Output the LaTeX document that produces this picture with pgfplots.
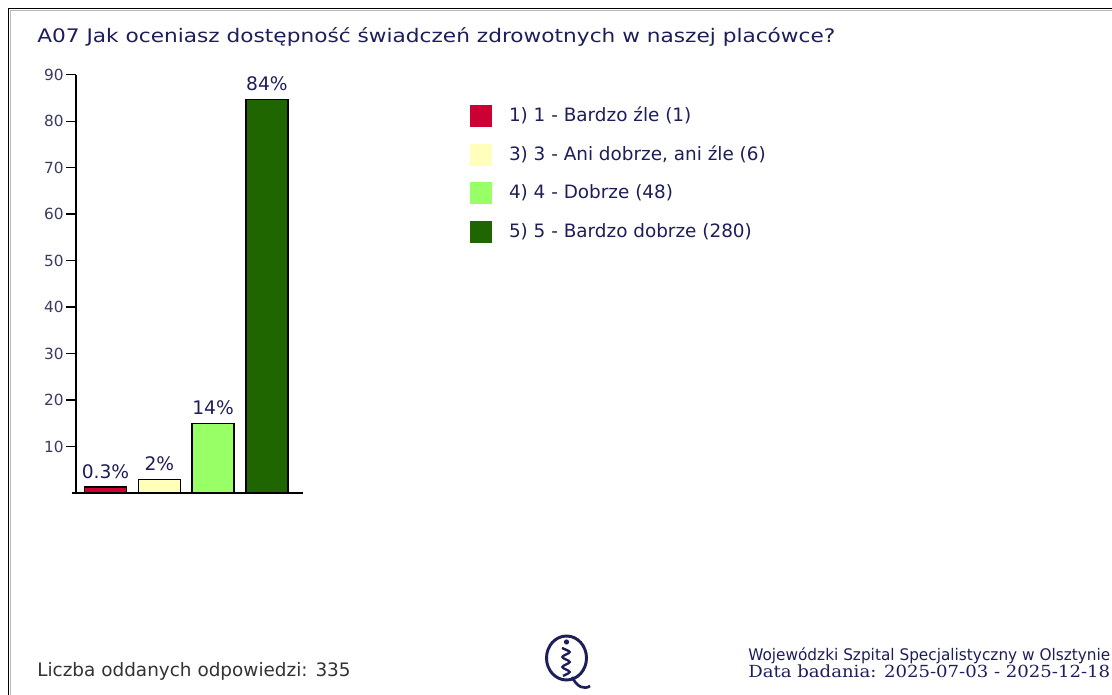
\documentclass[border=0pt]{standalone}
\usepackage{fontspec}
\setmainfont{DejaVu Sans}
\newfontfamily\seriffont{DejaVu Serif}
\usepackage{graphicx}
\usepackage{pgfplots}
\pgfplotsset{compat=1.18}
\definecolor{navy}{HTML}{1E1E5A}
\definecolor{ticknavy}{HTML}{3A3A62}
\definecolor{dgray}{HTML}{333333}
\definecolor{cRed}{HTML}{CC0033}
\definecolor{cYel}{HTML}{FFFFBB}
\definecolor{cLgr}{HTML}{99FF66}
\definecolor{cDgr}{HTML}{1F6600}
\pgfplotsset{
  mybar/.style={ybar, bar shift=0pt, draw=black, line width=1.1pt,
    legend image code/.code={\fill[##1, draw=none] (0pt,-8.25pt) rectangle (16.5pt,8.25pt);}},
}
\begin{document}
\begin{tikzpicture}[x=0.75pt,y=0.75pt]
\useasboundingbox (0,0) rectangle (1112,695);
\fill[white] (0,0) rectangle (1112,695);
\draw[line width=1.3pt] (8.5,0) -- (8.5,686.5) -- (1112,686.5);
\draw[gray!55, line width=0.7pt] (10.5,0) -- (10.5,684.5) -- (1112,684.5);

\node[anchor=base west, inner sep=0pt, text=navy] at (37,652)
  {\resizebox{598.5pt}{\height}{\fontsize{14pt}{17pt}\selectfont A07 Jak oceniasz dostępność świadczeń zdrowotnych w naszej placówce?}};

\begin{axis}[
  at={(56.775pt,151.5pt)}, anchor=south west,
  scale only axis, width=170.25pt, height=313.7pt,
  xmin=-0.554, xmax=3.665, ymin=0, ymax=90,
  axis x line*=bottom, axis y line*=left,
  axis line style={-, line width=1.4pt, black},
  xtick=\empty, ytick={10,20,...,90},
  tick align=outside, major tick length=7.3pt,
  every tick/.style={black, line width=1pt},
  yticklabel style={font=\fontsize{11.5pt}{13pt}\selectfont, text=ticknavy, inner sep=1.5pt},
  /pgf/number format/assume math mode=true,
  ybar, clip=false,
  bar width=31.5pt,
  point meta=explicit symbolic,
  nodes near coords,
  every node near coord/.append style={anchor=base, yshift=6.5pt, inner sep=0pt,
     font=\fontsize{14pt}{17pt}\selectfont, text=navy},
  legend cell align=left,
  legend style={at={(axis description cs:1.737,0.9276)}, anchor=north west,
     draw=none, fill=none, inner sep=0pt, outer sep=0pt,
     font=\fontsize{13.8pt}{16pt}\selectfont,
     row sep=12.4pt, column sep=12.75pt,
     nodes={inner sep=0pt, text height=12.5pt, text depth=4pt, text=navy}},
]
\addplot[mybar, fill=cRed] coordinates {(0,1.3) [0.3\%]};
\addlegendentry{1) 1 - Bardzo źle (1)}
\addplot[mybar, fill=cYel] coordinates {(1,2.9) [2\%]};
\addlegendentry{3) 3 - Ani dobrze, ani źle (6)}
\addplot[mybar, fill=cLgr] coordinates {(2,15.0) [14\%]};
\addlegendentry{4) 4 - Dobrze (48)}
\addplot[mybar, fill=cDgr] coordinates {(3,84.7) [84\%]};
\addlegendentry{5) 5 - Bardzo dobrze (280)}
\end{axis}
\draw[line width=1.4pt] (71.7,202) -- (76.5,202);

\node[anchor=base west, inner sep=0pt, text=dgray] at (37,18)
  {\resizebox{235pt}{\height}{\fontsize{13.9pt}{16pt}\selectfont Liczba oddanych odpowiedzi: 335}};

\node[anchor=base west, inner sep=0pt, text=navy] at (748,34)
  {\resizebox{271.5pt}{\height}{\fontsize{12pt}{14pt}\selectfont Wojewódzki Szpital Specjalistyczny w Olsztynie}};
\node[anchor=base west, inner sep=0pt, text=navy] at (748,17)
  {\resizebox{271.5pt}{\height}{\fontsize{12.5pt}{14pt}\seriffont Data badania: 2025-07-03 - 2025-12-18}};

% logo
\begin{scope}[navy]
\draw[line width=2.2pt] (566.5,37) ellipse [x radius=20, y radius=22];
\draw[line width=2pt] (572,18) .. controls (577,8) and (584,5) .. (590,9);
\fill (566.5,53) circle [radius=2.6];
\draw[line width=1.8pt, rounded corners=2pt] (562,47) -- (571,43) -- (561,38) -- (571,33) -- (561,28) -- (571,23) -- (563,19);
\end{scope}
\end{tikzpicture}
\end{document}
